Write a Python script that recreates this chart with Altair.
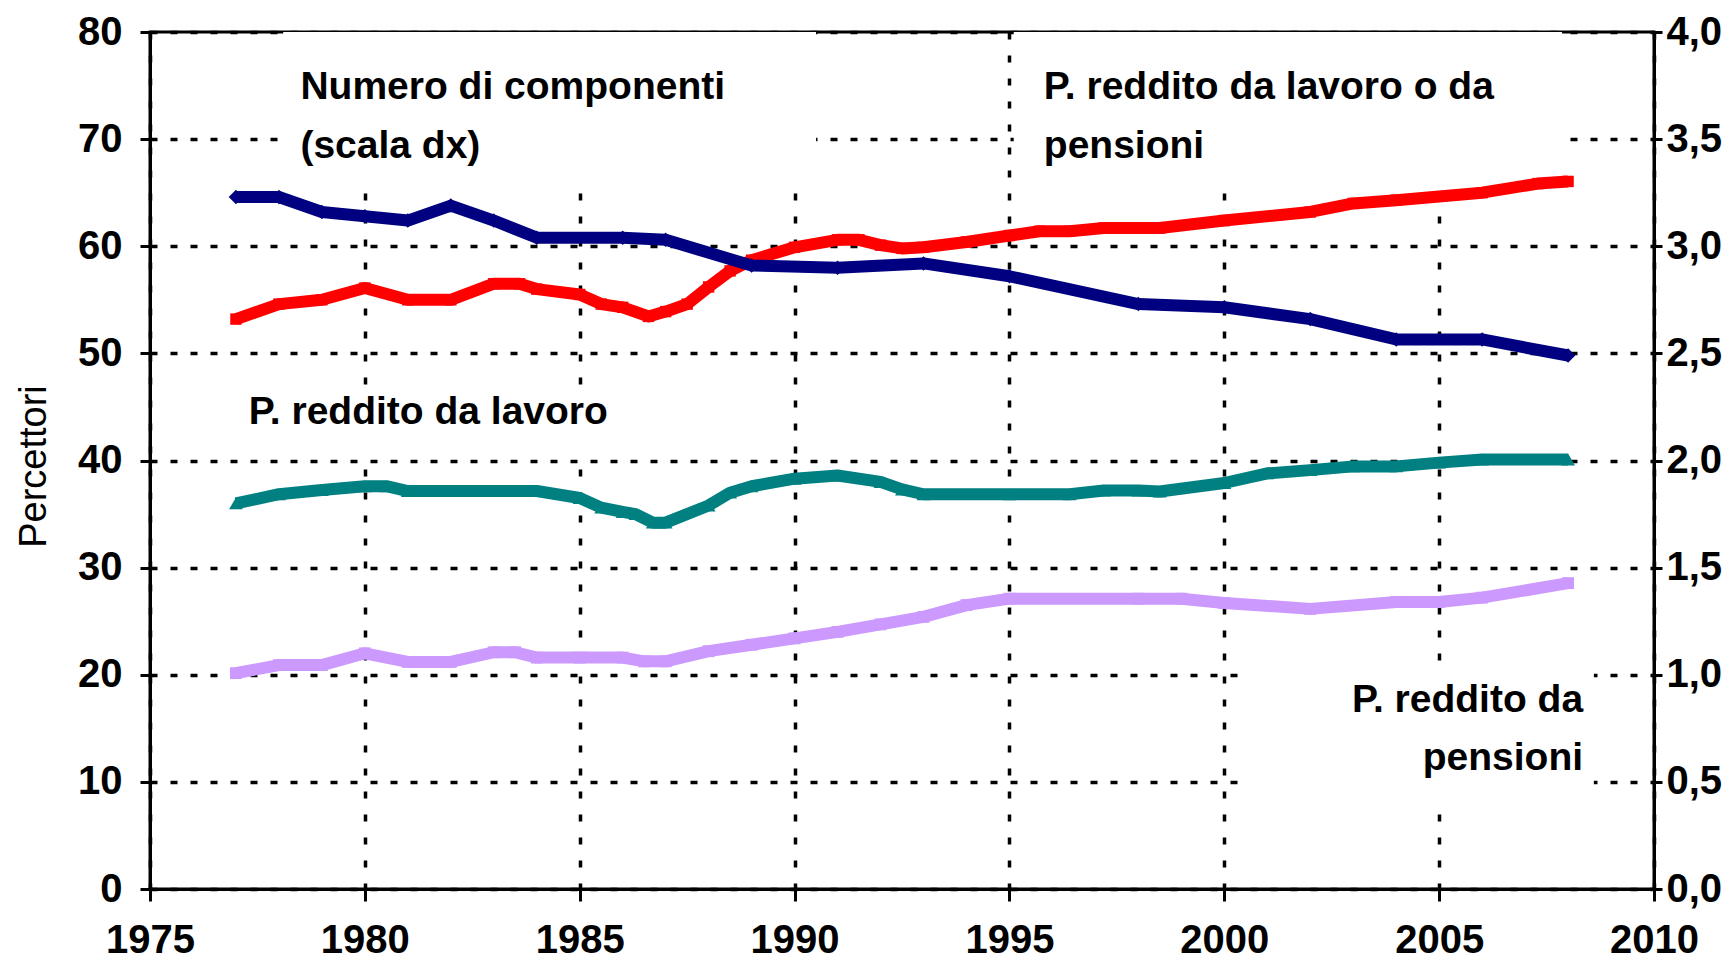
import altair as alt
import pandas as pd

FONT = "Liberation Sans, Arial, sans-serif"

# Numero di componenti (scala dx)
comp_years = [1977, 1978, 1979, 1980, 1981, 1982, 1983, 1984, 1986, 1987, 1989,
              1991, 1993, 1995, 1998, 2000, 2002, 2004, 2006, 2008]
comp_vals = [3.23, 3.23, 3.16, 3.14, 3.12, 3.19, 3.12, 3.04, 3.04, 3.03, 2.91,
             2.90, 2.92, 2.86, 2.73, 2.715, 2.66, 2.565, 2.565, 2.49]

# P. reddito da lavoro o da pensioni
lp_years = [1977, 1978, 1979, 1980, 1981, 1982, 1983, 1983.6, 1984, 1985, 1985.5,
            1986, 1986.6, 1987, 1987.5, 1988, 1988.5, 1989, 1990, 1991, 1991.5,
            1992, 1992.5, 1993, 1994, 1995, 1995.7, 1996.4, 1997.2, 1998, 1998.5,
            2000, 2002, 2003, 2004, 2006, 2007.3, 2008]
lp_vals = [53.2, 54.6, 55.0, 56.1, 55.0, 55.0, 56.5, 56.5, 56.0, 55.5, 54.6,
           54.3, 53.45, 53.9, 54.6, 56.2, 57.7, 58.7, 59.9, 60.6, 60.6,
           60.1, 59.8, 59.9, 60.4, 61.0, 61.4, 61.4, 61.7, 61.7, 61.7,
           62.4, 63.2, 64.0, 64.3, 65.0, 65.85, 66.05]

# P. reddito da lavoro
l_years = [1977, 1978, 1979, 1980, 1980.5, 1981, 1982, 1983, 1984, 1985, 1985.5,
           1986, 1986.3, 1986.7, 1987, 1988, 1988.5, 1989, 1990, 1991, 1992,
           1992.5, 1993, 1995, 1996.4, 1997.2, 1998, 1998.5, 2000, 2001, 2002,
           2003, 2004, 2005, 2006, 2008]
l_vals = [36.0, 36.85, 37.25, 37.6, 37.6, 37.15, 37.15, 37.15, 37.15, 36.5, 35.6,
          35.2, 35.0, 34.2, 34.2, 35.8, 37.0, 37.6, 38.3, 38.6, 38.0,
          37.3, 36.85, 36.85, 36.85, 37.2, 37.2, 37.1, 37.9, 38.8, 39.1,
          39.45, 39.45, 39.8, 40.1, 40.1]

# P. reddito da pensioni
p_years = [1977, 1978, 1979, 1980, 1981, 1982, 1983, 1983.5, 1984, 1985, 1986,
           1986.5, 1987, 1988, 1989, 1990, 1991, 1992, 1993, 1994, 1995, 1998,
           1999, 2000, 2002, 2004, 2005, 2006, 2008]
p_vals = [20.15, 20.9, 20.9, 22.0, 21.2, 21.2, 22.1, 22.1, 21.6, 21.6, 21.6,
          21.25, 21.25, 22.2, 22.8, 23.4, 24.0, 24.7, 25.4, 26.5, 27.1, 27.1,
          27.1, 26.7, 26.15, 26.8, 26.8, 27.2, 28.55]

x_ticks = [1975, 1980, 1985, 1990, 1995, 2000, 2005, 2010]
left_ticks = [0, 10, 20, 30, 40, 50, 60, 70, 80]
right_ticks = [0, 0.5, 1.0, 1.5, 2.0, 2.5, 3.0, 3.5, 4.0]

# annotation labels (left aligned)
ann_text = ["Numero di componenti", "(scala dx)", "P. reddito da lavoro o da",
            "pensioni", "P. reddito da lavoro"]
ann_x = [1978.5, 1978.5, 1995.8, 1995.8, 1977.3]
ann_y = [73.7, 68.2, 73.7, 68.2, 43.4]
# annotation labels (right aligned)
annr_text = ["P. reddito da", "pensioni"]
annr_x = [2008.35, 2008.35]
annr_y = [16.5, 11.1]

# white label backgrounds (text boxes)
box_x = [1978.1, 1995.1, 2000.4, 1977.1]
box_x2 = [1990.5, 2007.86, 2008.6, 1985.5]
box_y = [66.0, 66.0, 8.0, 40.35]
box_y2 = [80.0, 80.0, 21.1, 47.0]


def frame(years, vals):
    return pd.DataFrame({"anno": years, "valore": vals})


x_scale = alt.Scale(domain=[1975, 2010], nice=False, zero=False)
yl_scale = alt.Scale(domain=[0, 80], nice=False, zero=False)
yr_scale = alt.Scale(domain=[0, 4], nice=False, zero=False)

x_axis = alt.Axis(values=x_ticks, format="d", title=None, grid=True,
                  gridDash=[7, 16], gridColor="black", gridWidth=3.5,
                  tickSize=12, labelPadding=19, labelFlush=False,
                  labelOverlap=False)
yl_axis = alt.Axis(values=left_ticks, title="Percettori", grid=True,
                   gridDash=[7, 13], gridColor="black", gridWidth=3.5,
                   tickSize=10, labelPadding=18, labelOverlap=False,
                   titleFont=FONT, titleFontWeight="normal", titleFontSize=38,
                   titleColor="black", titleAngle=-90, titleX=-105, titleY=434,
                   titleBaseline="alphabetic", titleAlign="center")
yr_axis = alt.Axis(values=right_ticks, orient="right", title=None, grid=False,
                   tickSize=8, labelPadding=4, labelOverlap=False,
                   labelExpr="replace(format(datum.value, '.1f'), '.', ',')")

X = alt.X("anno:Q", scale=x_scale, axis=x_axis)
YL = alt.Y("valore:Q", scale=yl_scale, axis=yl_axis)
YR = alt.Y("valore:Q", scale=yr_scale, axis=yr_axis)

boxes = alt.Chart(pd.DataFrame({"anno": box_x, "anno2": box_x2,
                                "valore": box_y, "valore2": box_y2})).mark_rect(
    color="white").encode(x=X, x2="anno2:Q", y=YL, y2="valore2:Q")

LW = 12


def series(years, vals, color, shape, size, yenc):
    d = frame(years, vals)
    line = alt.Chart(d).mark_line(color=color, strokeWidth=LW, strokeCap="butt",
                                  strokeJoin="round").encode(x=X, y=yenc)
    pts = alt.Chart(d).mark_point(color=color, filled=True, opacity=1,
                                  shape=shape, size=size).encode(x=X, y=yenc)
    return line, pts


p_line, p_pts = series(p_years, p_vals, "#CC99FF", "square", 140, YL)
l_line, l_pts = series(l_years, l_vals, "#008080", "triangle-up", 190, YL)
lp_line, lp_pts = series(lp_years, lp_vals, "#FF0000", "square", 130, YL)
c_line, c_pts = series(comp_years, comp_vals, "#000080", "diamond", 210, YR)

txt_left = alt.Chart(pd.DataFrame({"anno": ann_x, "valore": ann_y,
                                   "testo": ann_text})).mark_text(
    align="left", baseline="alphabetic", font=FONT, fontWeight="bold",
    fontSize=39, color="black").encode(x=X, y=YL, text="testo:N")
txt_right = alt.Chart(pd.DataFrame({"anno": annr_x, "valore": annr_y,
                                    "testo": annr_text})).mark_text(
    align="right", baseline="alphabetic", font=FONT, fontWeight="bold",
    fontSize=39, color="black").encode(x=X, y=YL, text="testo:N")

left = alt.layer(boxes, p_line, p_pts, l_line, l_pts, lp_line, lp_pts,
                 txt_left, txt_right)
right = alt.layer(c_line, c_pts)

chart = alt.layer(left, right).resolve_scale(y="independent").properties(
    width=1504, height=857, autosize="none",
    padding={"left": 142, "top": 24, "right": 70, "bottom": 73},
    background="white",
).configure_view(stroke="black", strokeWidth=3).configure_axis(
    domainColor="black", domainWidth=3, tickColor="black", tickWidth=3,
    labelColor="black", labelFont=FONT, labelFontWeight="bold",
    labelFontSize=40,
)

chart.save("out.html", embed_options={"renderer": "svg", "actions": False})
